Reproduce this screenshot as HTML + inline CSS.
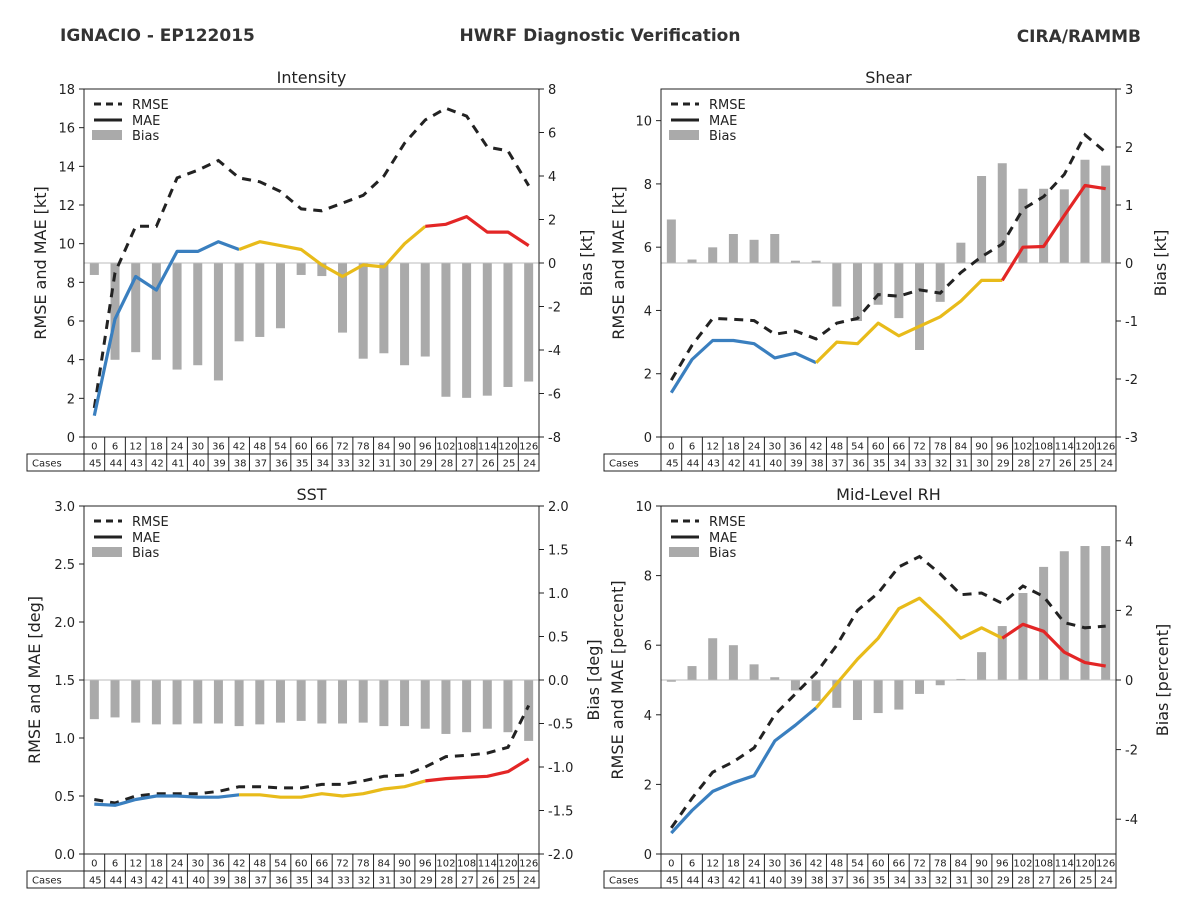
<!DOCTYPE html>
<html><head><meta charset="utf-8"><style>
body{margin:0;background:#fff;}
svg{display:block;font-family:"DejaVu Sans","Liberation Sans",sans-serif;}
</style></head><body>
<svg id="fig" width="1200" height="900" viewBox="0 0 1200 900">
<text x="60" y="41" font-size="17" font-weight="bold" fill="#333">IGNACIO - EP122015</text>
<text x="600" y="41" font-size="17" font-weight="bold" fill="#333" text-anchor="middle">HWRF Diagnostic Verification</text>
<text x="1141" y="42" font-size="17" font-weight="bold" fill="#333" text-anchor="end">CIRA/RAMMB</text>
</svg>
<script>
const hours=[0,6,12,18,24,30,36,42,48,54,60,66,72,78,84,90,96,102,108,114,120,126];
const cases=[45,44,43,42,41,40,39,38,37,36,35,34,33,32,31,30,29,28,27,26,25,24];
const intRmse=[1.5,8.5,10.9,10.9,13.4,13.8,14.3,13.4,13.2,12.7,11.8,11.7,12.1,12.5,13.5,15.2,16.4,17.0,16.6,15.0,14.8,13.0];
const intMae=[1.1,6.1,8.3,7.6,9.6,9.6,10.1,9.7,10.1,9.9,9.7,8.9,8.3,8.9,8.8,10.0,10.9,11.0,11.4,10.6,10.6,9.9];
const intBias=[-0.55,-4.45,-4.1,-4.45,-4.9,-4.7,-5.4,-3.6,-3.4,-3.0,-0.55,-0.6,-3.2,-4.4,-4.15,-4.7,-4.3,-6.15,-6.2,-6.1,-5.7,-5.45];
const shRmse=[1.8,2.9,3.75,3.72,3.68,3.25,3.35,3.1,3.6,3.75,4.5,4.45,4.65,4.55,5.2,5.7,6.1,7.2,7.6,8.3,9.55,9.0];
const shMae=[1.4,2.45,3.05,3.05,2.95,2.5,2.65,2.35,3.0,2.95,3.6,3.2,3.5,3.8,4.3,4.95,4.95,6.0,6.02,7.0,7.95,7.85];
const shBias=[0.75,0.06,0.27,0.5,0.4,0.5,0.04,0.04,-0.75,-1.0,-0.72,-0.95,-1.5,-0.67,0.35,1.5,1.72,1.28,1.28,1.27,1.78,1.68];
const sstRmse=[0.47,0.44,0.50,0.52,0.52,0.52,0.54,0.58,0.58,0.57,0.57,0.60,0.60,0.63,0.67,0.68,0.75,0.84,0.85,0.87,0.92,1.28];
const sstMae=[0.43,0.42,0.47,0.50,0.50,0.49,0.49,0.51,0.51,0.49,0.49,0.52,0.50,0.52,0.56,0.58,0.63,0.65,0.66,0.67,0.71,0.82];
const sstBias=[-0.45,-0.43,-0.49,-0.51,-0.51,-0.5,-0.5,-0.53,-0.51,-0.49,-0.47,-0.5,-0.5,-0.49,-0.53,-0.53,-0.56,-0.62,-0.6,-0.56,-0.6,-0.7];
const rhRmse=[0.75,1.6,2.35,2.65,3.05,4.0,4.6,5.2,6.0,7.0,7.5,8.25,8.55,8.05,7.45,7.5,7.2,7.7,7.4,6.65,6.5,6.55];
const rhMae=[0.6,1.25,1.8,2.05,2.25,3.25,3.7,4.2,4.9,5.6,6.2,7.05,7.35,6.8,6.2,6.5,6.2,6.6,6.4,5.8,5.5,5.4];
const rhBias=[-0.05,0.4,1.2,1.0,0.45,0.08,-0.3,-0.6,-0.8,-1.15,-0.95,-0.85,-0.4,-0.15,0.03,0.8,1.55,2.5,3.25,3.7,3.85,3.85];
const intLeftTicks=[0,2,4,6,8,10,12,14,16,18];
const intRightTicks=[-8,-6,-4,-2,0,2,4,6,8];
const shLeftTicks=[0,2,4,6,8,10];
const shRightTicks=[-3,-2,-1,0,1,2,3];
const sstLeftTicks=[0.0,0.5,1.0,1.5,2.0,2.5,3.0];
const sstRightTicks=[-2.0,-1.5,-1.0,-0.5,0.0,0.5,1.0,1.5,2.0];
const rhLeftTicks=[0,2,4,6,8,10];
const rhRightTicks=[-4,-2,0,2,4];

const NS='http://www.w3.org/2000/svg';
const svg=document.getElementById('fig');
function mk(tag,attrs,parent,text){const e=document.createElementNS(NS,tag);for(const k in attrs)e.setAttribute(k,attrs[k]);if(text!==undefined)e.textContent=text;(parent||svg).appendChild(e);return e;}

function panel(o){
  const g=mk('g',{});
  
  
  const L=o.x0,R=o.x1,T=o.y0,B=o.y1,n=hours.length,cw=(R-L)/n;
  const xs=i=>L+cw*(i+0.5);
  const yl=v=>B-(v-o.lmin)/(o.lmax-o.lmin)*(B-T);
  const yr=v=>B-(v-o.rmin)/(o.rmax-o.rmin)*(B-T);
  const y0=yr(0);
  o.bias.forEach((v,i)=>{
    const y=yr(v);
    const b=mk('rect',{x:xs(i)-4.5,y:Math.min(y,y0),width:9,height:Math.abs(y-y0),fill:'#aaaaaa'},g);
    
    
  });
  const zl=mk('line',{x1:L,x2:R,y1:y0,y2:y0,stroke:'#bbb','stroke-width':1},g);
  
  
  const rp=o.rmse.map((v,i)=>xs(i).toFixed(1)+','+yl(v).toFixed(1)).join(' ');
  const rl=mk('polyline',{points:rp,fill:'none',stroke:'#222','stroke-width':3,'stroke-dasharray':'9,7'},g);
  
  
  const segs=[[0,7,'#3a7fbf'],[7,16,'#e8bb1a'],[16,21,'#e32626']];
  segs.forEach(s=>{
    const pts=[];for(let i=s[0];i<=s[1];i++)pts.push(xs(i).toFixed(1)+','+yl(o.mae[i]).toFixed(1));
    const m=mk('polyline',{points:pts.join(' '),fill:'none',stroke:s[2],'stroke-width':3.2,'stroke-linejoin':'round'},g);
    
    
  });
  const fr=mk('rect',{x:L,y:T,width:R-L,height:B-T,fill:'none',stroke:'#222','stroke-width':1},g);
  
  
  o.lt.forEach(v=>{const y=yl(v);
    mk('line',{x1:L-5,x2:L,y1:y,y2:y,stroke:'#222'},g);
    const t=mk('text',{x:L-9,y:y+5,'font-size':13,'text-anchor':'end',fill:'#222'},g,o.lfmt(v));
    
    
  });
  o.rt.forEach(v=>{const y=yr(v);
    mk('line',{x1:R,x2:R+5,y1:y,y2:y,stroke:'#222'},g);
    const t=mk('text',{x:R+9,y:y+5,'font-size':13,fill:'#222'},g,o.rfmt(v));
    
    
  });
  const tt=mk('text',{x:(L+R)/2,y:T-6,'font-size':16,'text-anchor':'middle',fill:'#222'},g,o.title);
  
  
  const ly=mk('text',{x:0,y:0,'font-size':16,'text-anchor':'middle',fill:'#222',transform:`translate(${L-o.ldx},${(T+B)/2}) rotate(-90)`},g,o.ylab);
  
  
  const ry=mk('text',{x:0,y:0,'font-size':16,'text-anchor':'middle',fill:'#222',transform:`translate(${R+o.rdx},${(T+B)/2}) rotate(-90)`},g,o.rlab);
  
  
  const lx=L+10,lyy=T+15;
  mk('line',{x1:lx,x2:lx+28,y1:lyy,y2:lyy,stroke:'#222','stroke-width':3,'stroke-dasharray':'7,5'},g);
  const t1=mk('text',{x:lx+38,y:lyy+5,'font-size':13,fill:'#222'},g,'RMSE');
  
  
  mk('line',{x1:lx,x2:lx+28,y1:lyy+16,y2:lyy+16,stroke:'#222','stroke-width':3},g);
  const t2=mk('text',{x:lx+38,y:lyy+21,'font-size':13,fill:'#222'},g,'MAE');
  
  
  mk('rect',{x:lx-2,y:lyy+26,width:30,height:10,fill:'#aaa'},g);
  const t3=mk('text',{x:lx+38,y:lyy+36,'font-size':13,fill:'#222'},g,'Bias');
  
  
  const r1=B,r2=B+17,r3=B+34;
  mk('rect',{x:L,y:r1,width:R-L,height:17,fill:'none',stroke:'#222'},g);
  mk('rect',{x:L-57,y:r2,width:R-L+57,height:17,fill:'none',stroke:'#222'},g);
  mk('line',{x1:L,x2:L,y1:r2,y2:r3,stroke:'#222'},g);
  const cl=mk('text',{x:L-52,y:r2+12.5,'font-size':10,fill:'#222'},g,'Cases');
  
  
  hours.forEach((h,i)=>{
    const cx=L+cw*i;
    if(i>0){mk('line',{x1:cx,x2:cx,y1:r1,y2:r3,stroke:'#222'},g);}
    const ht=mk('text',{x:xs(i),y:r1+12.5,'font-size':10,'text-anchor':'middle',fill:'#222'},g,String(h));
    
    
    const ct=mk('text',{x:cx+cw-3,y:r2+12.5,'font-size':10,'text-anchor':'end',fill:'#222'},g,String(cases[i]));
    
    
  });
}
const f0=v=>String(v), f1=v=>v.toFixed(1);
panel({id:'intensity',x0:84,x1:539,y0:89,y1:437,lmin:0,lmax:18,rmin:-8,rmax:8,lt:intLeftTicks,rt:intRightTicks,lfmt:f0,rfmt:f0,rmse:intRmse,mae:intMae,bias:intBias,title:'Intensity',ylab:'RMSE and MAE [kt]',rlab:'Bias [kt]',ldx:38,rdx:53});
panel({id:'shear',x0:661,x1:1116,y0:89,y1:437,lmin:0,lmax:11,rmin:-3,rmax:3,lt:shLeftTicks,rt:shRightTicks,lfmt:f0,rfmt:f0,rmse:shRmse,mae:shMae,bias:shBias,title:'Shear',ylab:'RMSE and MAE [kt]',rlab:'Bias [kt]',ldx:37,rdx:50});
panel({id:'sst',x0:84,x1:539,y0:506,y1:854,lmin:0,lmax:3,rmin:-2,rmax:2,lt:sstLeftTicks,rt:sstRightTicks,lfmt:f1,rfmt:f1,rmse:sstRmse,mae:sstMae,bias:sstBias,title:'SST',ylab:'RMSE and MAE [deg]',rlab:'Bias [deg]',ldx:44,rdx:60});
panel({id:'rh',x0:661,x1:1116,y0:506,y1:854,lmin:0,lmax:10,rmin:-5,rmax:5,lt:rhLeftTicks,rt:rhRightTicks,lfmt:f0,rfmt:f0,rmse:rhRmse,mae:rhMae,bias:rhBias,title:'Mid-Level RH',ylab:'RMSE and MAE [percent]',rlab:'Bias [percent]',ldx:38,rdx:52});
</script>
</body></html>
